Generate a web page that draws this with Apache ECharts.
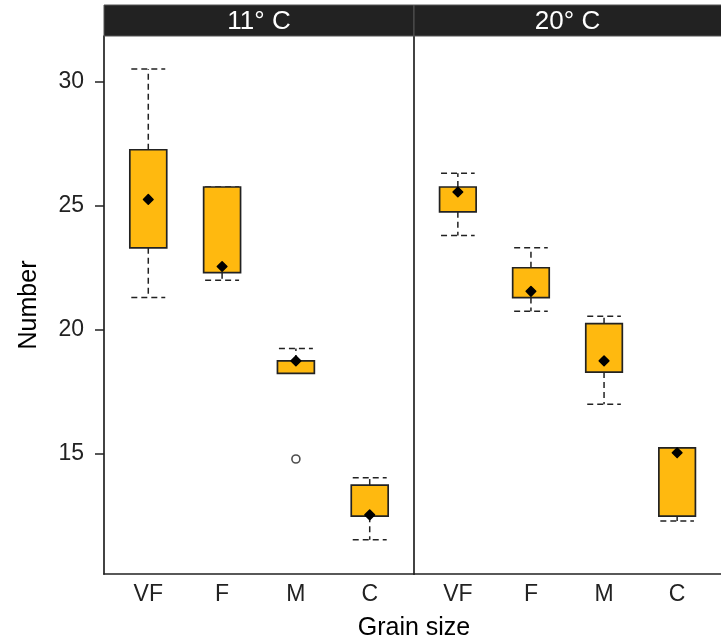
<!DOCTYPE html>
<html>
<head>
<meta charset="utf-8">
<script src="https://cdn.jsdelivr.net/npm/echarts@6/dist/echarts.min.js"></script>
<style>html,body{margin:0;padding:0;background:#fff}#c{width:721px;height:642px}</style>
</head>
<body>
<div id="c"></div>
<script>
var categories = ['VF', 'F', 'M', 'C'];
var panels = ['11° C', '20° C'];
var yTicks = [15, 20, 25, 30];
// [low whisker, Q1, median, Q3, high whisker]
var cold = [
  [21.3, 23.3, 25.25, 27.25, 30.5],
  [22.0, 22.3, 22.55, 25.75, 25.75],
  [18.25, 18.25, 18.75, 18.75, 19.25],
  [11.55, 12.5, 12.55, 13.75, 14.05]
];
var warm = [
  [23.8, 24.75, 25.55, 25.75, 26.3],
  [20.75, 21.3, 21.55, 22.5, 23.3],
  [17.0, 18.3, 18.75, 20.25, 20.55],
  [12.3, 12.5, 15.05, 15.25, 15.25]
];
// outliers: [category index, value]
var coldOutliers = [[2, 14.8]];
var warmOutliers = [];

var FONT = '"Liberation Sans", Arial, sans-serif';
var INK = '#222';
var FILL = '#FFB90F';

function toData(arr) {
  return arr.map(function (d, i) { return [i + 1].concat(d); });
}
function outData(arr) {
  return arr.map(function (d) { return [d[0] + 1, d[1]]; });
}

function renderBox(params, api) {
  var x = api.value(0);
  var lo = api.value(1), q1 = api.value(2), md = api.value(3), q3 = api.value(4), hi = api.value(5);
  var bw = 0.25, cw = 0.23;
  var pLo = api.coord([x, lo]), pQ1 = api.coord([x, q1]), pMd = api.coord([x, md]),
      pQ3 = api.coord([x, q3]), pHi = api.coord([x, hi]);
  var bl = api.coord([x - bw, q3]), br = api.coord([x + bw, q1]);
  var cl = api.coord([x - cw, lo])[0], cr = api.coord([x + cw, lo])[0];
  var dash = { stroke: INK, lineWidth: 1.5, lineDash: [6, 4], fill: null };
  var children = [];
  if (hi > q3) {
    children.push({ type: 'line', shape: { x1: pQ3[0], y1: pQ3[1], x2: pHi[0], y2: pHi[1] }, style: dash });
  }
  children.push({ type: 'line', shape: { x1: cl, y1: pHi[1], x2: cr, y2: pHi[1] }, style: dash });
  if (lo < q1) {
    children.push({ type: 'line', shape: { x1: pQ1[0], y1: pQ1[1], x2: pLo[0], y2: pLo[1] }, style: dash });
  }
  children.push({ type: 'line', shape: { x1: cl, y1: pLo[1], x2: cr, y2: pLo[1] }, style: dash });
  children.push({ type: 'rect', shape: { x: bl[0], y: bl[1], width: br[0] - bl[0], height: Math.max(br[1] - bl[1], 1) },
    style: { fill: FILL, stroke: INK, lineWidth: 1.7 } });
  var r = 4.8;
  children.push({ type: 'polygon', shape: { points: [[pMd[0] - r, pMd[1]], [pMd[0], pMd[1] - r], [pMd[0] + r, pMd[1]], [pMd[0], pMd[1] + r]] },
    style: { fill: '#000', stroke: '#000', lineWidth: 1.5, lineJoin: 'round' } });
  return { type: 'group', children: children };
}

var grids = [
  { left: 104, top: 36, width: 310, height: 538 },
  { left: 414, top: 36, width: 310, height: 538 }
];
var yMin = 10.17, yMax = 31.83;

var xAxes = grids.map(function (g, i) {
  return {
    type: 'value', gridIndex: i, min: 0.4, max: 4.6,
    axisLine: { show: true, lineStyle: { color: INK, width: 1.7 } },
    axisTick: { show: false },
    splitLine: { show: false },
    axisLabel: {
      customValues: [1, 2, 3, 4],
      formatter: function (v) { return categories[Math.round(v) - 1] || ''; },
      margin: 9, fontSize: 23, color: INK, fontFamily: FONT
    }
  };
});
var yAxes = grids.map(function (g, i) {
  return {
    type: 'value', gridIndex: i, min: yMin, max: yMax,
    axisLine: { show: true, lineStyle: { color: INK, width: 1.7 } },
    axisTick: { show: i === 0, length: 9, inside: false, customValues: yTicks, lineStyle: { color: INK, width: 1.5 } },
    splitLine: { show: false },
    axisLabel: { show: i === 0, customValues: yTicks, margin: 20, fontSize: 23, color: INK, fontFamily: FONT },
    name: i === 0 ? 'Number' : '',
    nameLocation: 'middle', nameGap: 62, nameRotate: 90,
    nameTextStyle: { fontSize: 25, color: '#000', fontFamily: FONT }
  };
});

var series = [];
[cold, warm].forEach(function (set, i) {
  series.push({ type: 'custom', xAxisIndex: i, yAxisIndex: i, data: toData(set), renderItem: renderBox, z: 3 });
});
[coldOutliers, warmOutliers].forEach(function (set, i) {
  series.push({ type: 'scatter', xAxisIndex: i, yAxisIndex: i, data: outData(set), symbol: 'circle', symbolSize: 8,
    itemStyle: { color: '#fff', borderColor: INK, borderWidth: 1.6 }, z: 4 });
});

var graphics = [];
grids.forEach(function (g, i) {
  graphics.push({ type: 'rect', shape: { x: g.left, y: 5, width: g.width, height: 31 },
    style: { fill: '#222', stroke: '#555', lineWidth: 1 }, z: 10 });
  graphics.push({ type: 'text', x: g.left + g.width / 2 - (i === 1 ? 1.5 : 0), y: 22,
    style: { text: panels[i], fill: '#fff', font: '26px ' + FONT, textAlign: 'center', textVerticalAlign: 'middle' }, z: 11 });
});
graphics.push({ type: 'text', x: 414, y: 628,
  style: { text: 'Grain size', fill: '#000', font: '25px ' + FONT, textAlign: 'center', textVerticalAlign: 'middle' } });

var chart = echarts.init(document.getElementById('c'), null, { renderer: 'canvas' });
chart.setOption({
  backgroundColor: '#fff',
  animation: false,
  grid: grids,
  xAxis: xAxes,
  yAxis: yAxes,
  series: series,
  graphic: graphics
});
</script>
</body>
</html>
